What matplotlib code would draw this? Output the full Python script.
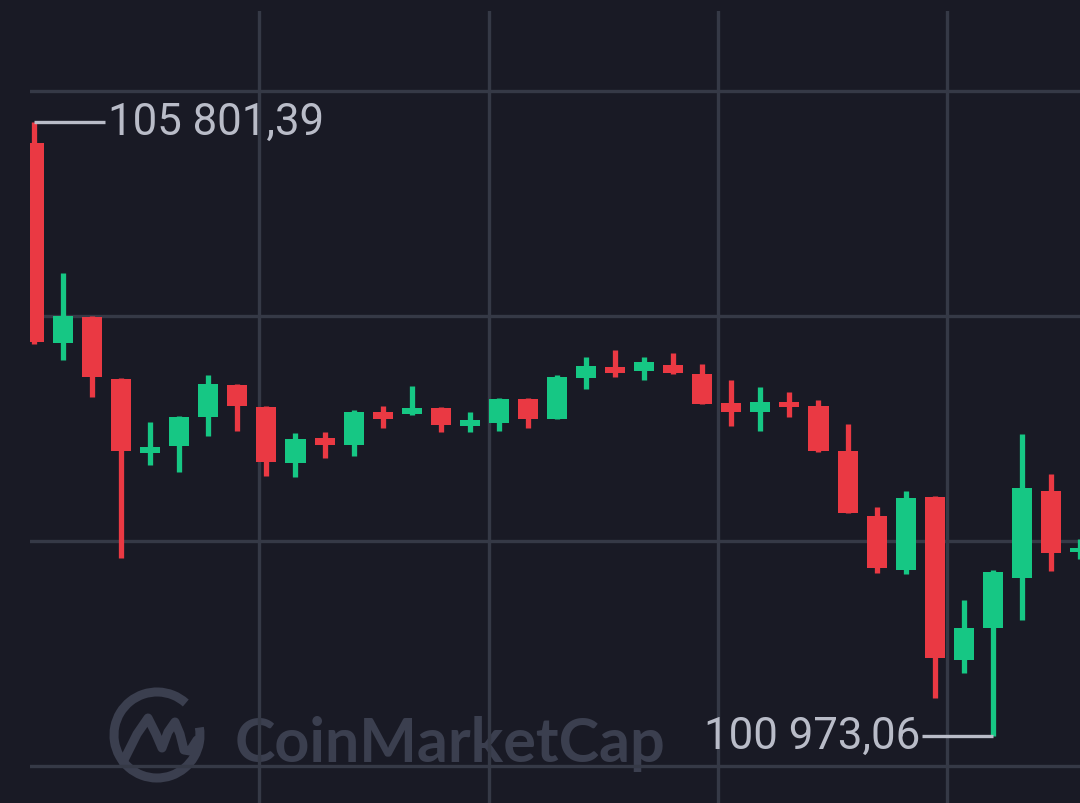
import matplotlib
matplotlib.use("Agg")
import matplotlib.pyplot as plt
import matplotlib.transforms as mtransforms
from matplotlib.patches import Arc
import numpy as np

# ---- data (OHLC, USD) ----
opens = [105636.3, 104063.5, 104268.0, 103780.4, 103198.5, 103253.6, 103481.6, 103733.2,
         103560.2, 103119.9, 103316.5, 103261.4, 103520.9, 103505.2, 103552.4, 103410.8,
         103434.4, 103623.2, 103465.9, 103788.3, 103874.8, 103843.3, 103890.5, 103819.7,
         103591.7, 103520.9, 103599.6, 103568.1, 103214.2, 102703.1, 102278.5, 102852.5,
         101570.7, 101822.4, 102215.5, 102899.7, 102420.0]
highs = [105801.39, 104614.0, 104272.0, 103788.3, 103442.3, 103489.5, 103811.9, 103741.1,
         103568.1, 103355.8, 103363.7, 103536.7, 103568.1, 103725.4, 103560.2, 103520.9,
         103631.0, 103631.0, 103811.9, 103953.4, 104008.5, 103953.4, 103984.9, 103898.4,
         103772.6, 103717.5, 103678.2, 103615.3, 103426.6, 102773.9, 102899.7, 102860.4,
         102042.5, 102278.5, 103347.9, 103033.4, 102521.0]
lows = [104055.7, 103929.8, 103638.9, 102372.8, 103104.2, 103049.1, 103332.2, 103371.5,
        103017.7, 103009.8, 103159.2, 103174.9, 103395.1, 103500.0, 103363.7, 103363.7,
        103371.5, 103395.1, 103462.0, 103701.8, 103796.2, 103772.6, 103819.7, 103580.0,
        103410.8, 103371.5, 103481.6, 103210.0, 102724.0, 102254.9, 102247.0, 101271.9,
        101468.5, 100973.06, 101885.3, 102270.6, 102365.0]
closes = [104071.4, 104275.8, 103796.2, 103214.2, 103245.7, 103481.6, 103741.1, 103568.1,
          103127.7, 103308.6, 103261.4, 103520.9, 103465.9, 103552.4, 103418.7, 103458.0,
          103623.2, 103465.9, 103796.2, 103882.7, 103827.6, 103914.1, 103827.6, 103583.8,
          103520.9, 103599.6, 103560.2, 103214.2, 102726.7, 102294.2, 102844.6, 101586.5,
          101822.4, 102262.7, 102923.3, 102412.1, 102451.5]

max_label = "105 801,39"
min_label = "100 973,06"
grid_prices = [106045.2, 104275.8, 102506.5, 100737.2]
grid_slots = [7.74, 15.66, 23.54, 31.42]
watermark = "CoinMarketCap"

# ---- style ----
BG = "#191a25"
GRID = "#353946"
RED = "#ea3943"
GREEN = "#16c784"
TXT = "#b9bcc8"
WM = "#3b3f4f"

W, H = 1080, 804
fig = plt.figure(figsize=(W / 100, H / 100), dpi=100, facecolor=BG)
ax = fig.add_axes([30 / W, 0, 1050 / W, 792 / H])
ax.set_facecolor(BG)
for s in ax.spines.values():
    s.set_visible(False)
ax.set_xticks([])
ax.set_yticks([])
ax.set_xlim(-0.1376, 36.0)
ax.set_ylim(100446.2, 106674.3)

# pixel transform for watermark (origin top-left of figure)
pix = mtransforms.Affine2D().scale(1 / W, -1 / H).translate(0, 1) + fig.transFigure

# watermark (drawn inside the axes, beneath the grid)
ax.text(235, 762, watermark, transform=pix, color=WM, fontsize=44,
        fontfamily="Lato", fontweight="bold", va="baseline", ha="left",
        zorder=0.5, clip_on=False)
ring = Arc((157, 736), 86, 86, theta1=-10, theta2=312, transform=pix,
           color=WM, lw=6.5, zorder=0.5, clip_on=False)
ax.add_patch(ring)
mx = [123, 137, 148, 156, 162, 168, 175, 180, 184, 190, 197]
my = [763, 735, 719, 735, 749, 733, 723, 735, 751, 752, 741]
ax.add_line(plt.Line2D(mx, my, transform=pix, color=WM, lw=6.5,
                       solid_capstyle="round", solid_joinstyle="round",
                       zorder=0.5, clip_on=False))

# grid
for gp in grid_prices:
    ax.axhline(gp, color=GRID, lw=2.4, zorder=1)
for gs in grid_slots:
    ax.axvline(gs, color=GRID, lw=2.4, zorder=1)

# candles
x = np.arange(len(opens))
o = np.array(opens); c = np.array(closes); h = np.array(highs); l = np.array(lows)
cols = [GREEN if cc >= oo else RED for oo, cc in zip(o, c)]
ax.vlines(x, l, h, colors=cols, lw=3.8, zorder=3)
ax.bar(x, np.abs(c - o), bottom=np.minimum(o, c), width=0.69, color=cols,
       zorder=4, linewidth=0)

# max / min labels
imax = int(np.argmax(h))
imin = int(np.argmin(l))
ax.plot([imax, 2.45], [h[imax], h[imax]], color=TXT, lw=2.4, zorder=5,
        solid_capstyle="butt")
ax.text(2.55, h[imax], max_label, color=TXT, fontsize=31.5, fontfamily="Roboto",
        va="center", ha="left", zorder=6)
ax.plot([30.56, imin], [l[imin], l[imin]], color=TXT, lw=2.4, zorder=5,
        solid_capstyle="butt")
ax.text(30.49, l[imin], min_label, color=TXT, fontsize=31.5, fontfamily="Roboto",
        va="center", ha="right", zorder=6)

fig.savefig("out.png", dpi=100, facecolor=BG)
